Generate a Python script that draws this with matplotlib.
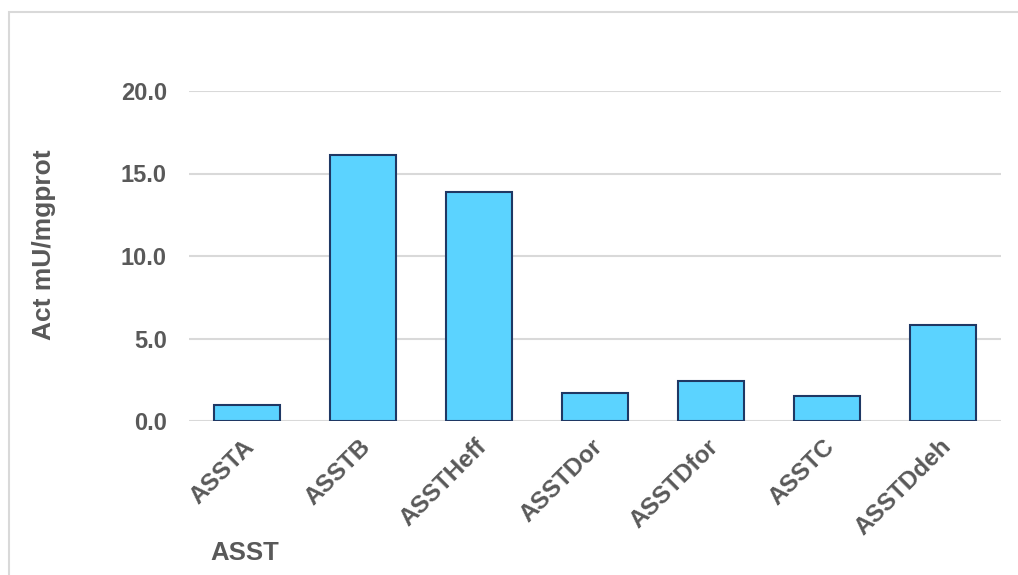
import matplotlib.pyplot as plt
import matplotlib.transforms as mtransforms
from matplotlib.patches import Rectangle

# actividad especifica por muestra
muestras = ['ASSTA', 'ASSTB', 'ASSTHeff', 'ASSTDor', 'ASSTDfor', 'ASSTC', 'ASSTDdeh']
actividad = [1.0, 16.1, 13.9, 1.7, 2.4, 1.5, 5.8]
yticks = [0, 5, 10, 15, 20]

gris = '#595959'
plt.rcParams['font.family'] = ['Liberation Sans', 'DejaVu Sans']

fig = plt.figure(figsize=(10.18, 5.75), dpi=100)
# marco del grafico
fig.patches.append(Rectangle((9 / 1018, -0.1), 1.2, 1 - 12 / 575 + 0.1,
                             transform=fig.transFigure, fill=False,
                             edgecolor='#D9D9D9', linewidth=1.5))

ax = fig.add_axes([189 / 1018, 1 - 421 / 575, (1001 - 189) / 1018, (421 - 91) / 575])
x = range(len(muestras))
ax.bar(x, actividad, width=0.57, color='#5BD3FF', edgecolor='#1F3864',
       linewidth=1.5, zorder=3)

ax.set_xlim(-0.5, len(muestras) - 0.5)
ax.set_ylim(0, 20)
ax.set_yticks(yticks)
ax.set_yticklabels(['{:.1f}'.format(v) for v in yticks])
ax.grid(axis='y', color='#D9D9D9', linewidth=1.5, zorder=0)
for s in ax.spines.values():
    s.set_visible(False)
ax.tick_params(axis='both', length=0, labelsize=17, labelcolor=gris)
ax.tick_params(axis='y', pad=16)
ax.tick_params(axis='x', pad=10)
ax.set_xticks(list(x))
ax.set_xticklabels(muestras, rotation=45, ha='right', rotation_mode='anchor',
                   fontweight='bold', fontsize=17.5)
# corre un poco las etiquetas inclinadas hacia la izquierda
desplaza = mtransforms.ScaledTranslation(-4 / 100, 0, fig.dpi_scale_trans)
for t in ax.get_xticklabels():
    t.set_transform(t.get_transform() + desplaza)
for t in ax.get_yticklabels():
    t.set_fontweight('bold')

fig.text(44 / 1018, 1 - 245 / 575, 'Act mU/mgprot', rotation=90, ha='center',
         va='center', fontsize=19, fontweight='bold', color=gris)
fig.text(245 / 1018, 1 - 553 / 575, 'ASST', ha='center', va='center',
         fontsize=18.5, fontweight='bold', color=gris)

fig.savefig('out.png', dpi=100)
